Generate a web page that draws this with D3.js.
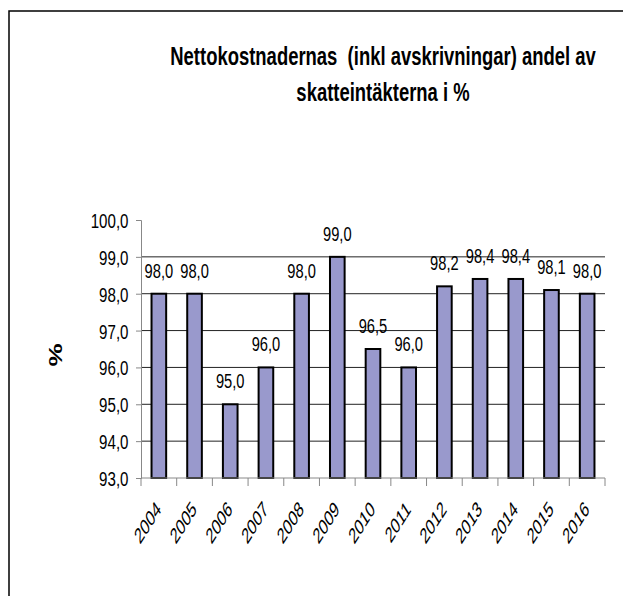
<!DOCTYPE html>
<html lang="sv">
<head>
<meta charset="UTF-8">
<script src="https://cdnjs.cloudflare.com/ajax/libs/d3/7.9.0/d3.min.js"></script>
<title>Nettokostnader</title>
<style>
    body { margin: 0; background: white; }
    svg { display: block; }
    text { font-family: "Liberation Sans", Arial, sans-serif; fill: #000; }
</style>
</head>
<body>
<div id="content"></div>
<script>
    const years = ["2004", "2005", "2006", "2007", "2008", "2009", "2010", "2011", "2012", "2013", "2014", "2015", "2016"];
    const values = [98.0, 98.0, 95.0, 96.0, 98.0, 99.0, 96.5, 96.0, 98.2, 98.4, 98.4, 98.1, 98.0];
    const yTicks = [93, 94, 95, 96, 97, 98, 99, 100];
    const titleLines = ["Nettokostnadernas\u00a0 (inkl avskrivningar) andel av", "skatteintäkterna i %"];

    const width = 623, height = 596;
    const margin = { top: 220, right: 18, bottom: 118, left: 141 };
    // text in the picture is squeezed sideways
    const fmt = v => v.toFixed(1).replace(".", ",");
    const place = (px, py, s = 0.72, extra = "") => `translate(${px},${py}) scale(${s},1)${extra}`;

    const svg = d3.select("#content").append("svg")
        .attr("width", width)
        .attr("height", height);

    // frame (only top and left edges show)
    svg.append("path")
        .attr("d", `M9,${height} V11 H${width}`)
        .attr("fill", "none")
        .attr("stroke", "#000")
        .attr("stroke-width", 1.5);

    const x = d3.scaleBand()
        .domain(years)
        .range([margin.left, width - margin.right])
        .paddingInner(0.59)
        .paddingOuter(0.295);

    const y = d3.scaleLinear()
        .domain([93, 100])
        .range([height - margin.bottom, margin.top]);

    const step = x.step();
    const x0 = margin.left, x1 = width - margin.right;

    // gridlines
    svg.append("g")
        .selectAll("line")
        .data(yTicks.filter(t => t > 93 && t < 100))
        .join("line")
        .attr("x1", x0).attr("x2", x1)
        .attr("y1", d => y(d)).attr("y2", d => y(d))
        .attr("stroke", "#222")
        .attr("stroke-width", 1);

    // y axis
    const yAxis = svg.append("g")
        .attr("transform", `translate(${x0},0)`)
        .call(d3.axisLeft(y).tickValues(yTicks).tickFormat("").tickSize(5));
    yAxis.select(".domain").attr("stroke", "#888");
    yAxis.selectAll(".tick line").attr("stroke", "#888");

    svg.append("g")
        .selectAll("text")
        .data(yTicks)
        .join("text")
        .attr("transform", d => place(x0 - 12.5, y(d) + 8))
        .attr("text-anchor", "end")
        .attr("font-size", 21)
        .text(fmt);

    // bars
    svg.append("g")
        .selectAll("rect")
        .data(values)
        .join("rect")
        .attr("x", (d, i) => x(years[i]))
        .attr("y", d => y(d))
        .attr("width", x.bandwidth())
        .attr("height", d => y(93) - y(d))
        .attr("fill", "#9999cc")
        .attr("stroke", "#000")
        .attr("stroke-width", 2);

    // x axis
    const xg = svg.append("g");
    xg.append("line")
        .attr("x1", x0).attr("x2", x1)
        .attr("y1", y(93)).attr("y2", y(93))
        .attr("stroke", "#888");
    xg.selectAll("line.tick")
        .data(d3.range(years.length + 1))
        .join("line")
        .attr("class", "tick")
        .attr("x1", i => x0 + i * step).attr("x2", i => x0 + i * step)
        .attr("y1", y(93)).attr("y2", y(93) + 8)
        .attr("stroke", "#888");
    xg.selectAll("text")
        .data(years)
        .join("text")
        .attr("transform", d => place(x(d) + x.bandwidth() / 2 + 3, y(93) + 32.5, 0.63, " rotate(-45)"))
        .attr("text-anchor", "end")
        .attr("font-size", 22)
        .text(d => d);

    // value labels
    svg.append("g")
        .selectAll("text")
        .data(values)
        .join("text")
        .attr("transform", (d, i) => place(x(years[i]) + x.bandwidth() / 2, y(d) - 16, 0.7))
        .attr("text-anchor", "middle")
        .attr("font-size", 21)
        .text(d => fmt(d));

    // y label
    svg.append("text")
        .attr("transform", place(62, 355, 0.72, " rotate(-90)"))
        .attr("text-anchor", "middle")
        .attr("font-size", 26)
        .attr("font-weight", "bold")
        .text("%");

    // title
    svg.append("g")
        .selectAll("text")
        .data(titleLines)
        .join("text")
        .attr("transform", (d, i) => place(383, 65 + i * 36, 0.71))
        .attr("text-anchor", "middle")
        .attr("font-size", 26)
        .attr("font-weight", "bold")
        .text(d => d);
</script>
</body>
</html>
